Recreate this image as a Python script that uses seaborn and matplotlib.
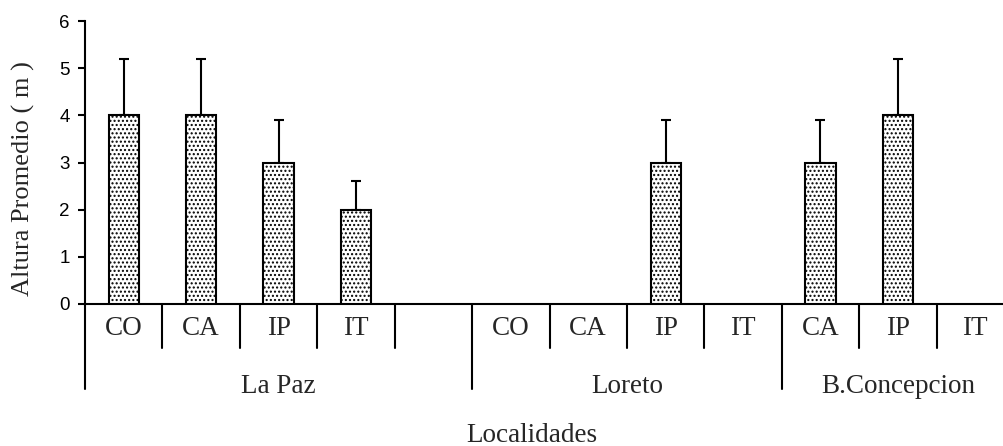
import numpy as np
import pandas as pd
import matplotlib
matplotlib.use("Agg")
import matplotlib.pyplot as plt
import seaborn as sns
from matplotlib.transforms import blended_transform_factory

# ---- data ----
localidades = ["La Paz", "La Paz", "La Paz", "La Paz", "La Paz",
               "Loreto", "Loreto", "Loreto", "Loreto",
               "B.Concepcion", "B.Concepcion", "B.Concepcion"]
tratamientos = ["CO", "CA", "IP", "IT", "",
                "CO", "CA", "IP", "IT",
                "CA", "IP", "IT"]
altura = [4, 4, 3, 2, np.nan,
          np.nan, np.nan, 3, np.nan,
          3, 4, np.nan]
error_sup = [1.2, 1.2, 0.9, 0.6, np.nan,
             np.nan, np.nan, 0.9, np.nan,
             0.9, 1.2, np.nan]
grupos = ["La Paz", "Loreto", "B.Concepcion"]
yticks = [0, 1, 2, 3, 4, 5, 6]
ylabel = "Altura Promedio ( m )"
xlabel = "Localidades"

sns.set_style("white")
plt.rcParams["font.family"] = ["Liberation Serif", "DejaVu Serif"]
plt.rcParams["hatch.linewidth"] = 1.0
plt.rcParams["hatch.color"] = "black"

serif = "Liberation Serif"
sans = "Liberation Sans"

df = pd.DataFrame({
    "slot": [f"{l}|{t}|{i}" for i, (l, t) in enumerate(zip(localidades, tratamientos))],
    "altura": altura,
})

fig = plt.figure(figsize=(10.04, 4.46), dpi=100)
ax = fig.add_axes([85 / 1004, 142 / 446, 929 / 1004, 283 / 446])

sns.barplot(data=df, x="slot", y="altura", order=list(df["slot"]),
            width=0.39, color="white", saturation=1, edgecolor="black",
            linewidth=1.5, hatch="....", errorbar=None, ax=ax, zorder=3)

x = np.arange(len(altura))
h = np.array(altura, dtype=float)
e = np.array(error_sup, dtype=float)
m = ~np.isnan(h)
ax.errorbar(x[m], h[m], yerr=[np.zeros(m.sum()), e[m]], fmt="none",
            ecolor="black", elinewidth=1.5, capsize=3.6, capthick=1.5, zorder=2)

ax.set_xlim(-0.5, len(altura) - 0.5)
ax.set_ylim(0, 6)
ax.set_yticks(yticks)
ax.set_yticklabels([str(v) for v in yticks], fontfamily=sans, fontsize=13.5)
ax.set_xticks([])
ax.set_xlabel("")
ax.set_ylabel("")
for s in ["top", "right"]:
    ax.spines[s].set_visible(False)
for s in ["left", "bottom"]:
    ax.spines[s].set_color("black")
    ax.spines[s].set_linewidth(1.5)
ax.tick_params(axis="y", left=True, direction="out", length=5, width=1.5,
               pad=6, colors="black")

trans = blended_transform_factory(ax.transData, ax.transAxes)
n = len(altura)
# dividers below the axis
for k in range(0, n):
    b = k - 0.5
    if k == 0 or localidades[k] != localidades[k - 1]:
        ax.plot([b, b], [0, -0.300], transform=trans, clip_on=False,
                color="black", lw=1.5)
    else:
        ax.plot([b, b], [0, -0.155], transform=trans, clip_on=False,
                color="black", lw=1.5)

for i, t in enumerate(tratamientos):
    if t:
        ax.text(i, -0.085, t, transform=trans, ha="center", va="center",
                fontsize=19.5, fontfamily=serif)

for g in grupos:
    idx = [i for i, l in enumerate(localidades) if l == g]
    ax.text(np.mean(idx), -0.29, g, transform=trans, ha="center",
            va="center", fontsize=19.5, fontfamily=serif)

ax.text(0.481, -0.463, xlabel, transform=ax.transAxes, ha="center",
        va="center", fontsize=19.5, fontfamily=serif)
ax.text(-0.0667, 0.445, ylabel, transform=ax.transAxes, ha="center",
        va="center", rotation=90, fontsize=19, fontfamily=serif)

fig.savefig("out.png", dpi=100)
